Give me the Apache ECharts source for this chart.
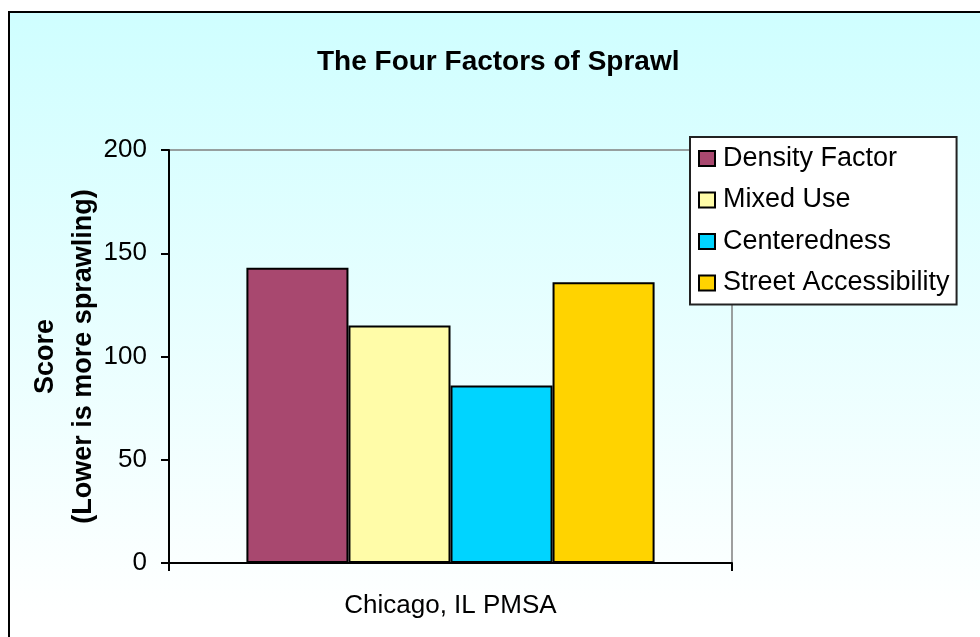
<!DOCTYPE html>
<html>
<head>
<meta charset="utf-8">
<script src="https://cdn.jsdelivr.net/npm/echarts@6/dist/echarts.min.js"></script>
<style>
  html, body { margin: 0; padding: 0; background: #fff; overflow: hidden; }
  #chart { width: 980px; height: 637px; }
</style>
</head>
<body>
<div id="chart"></div>
<script>
// data
const categories = ["Chicago, IL PMSA"];
const seriesNames = ["Density Factor", "Mixed Use", "Centeredness", "Street Accessibility"];
const seriesValues = [143, 115, 86, 136];
const colors = ["#A8486F", "#FFFCA8", "#00D4FF", "#FFD300"];

const font = '"Liberation Sans", Arial, sans-serif';

const chart = echarts.init(document.getElementById("chart"));

const series = seriesNames.map((name, i) => ({
  name,
  type: "bar",
  data: [seriesValues[i]],
  barGap: "0%",
  barCategoryGap: "27.5%",
  itemStyle: {
    color: colors[i],
    borderColor: "#000",
    borderWidth: 2,
  },
}));

chart.setOption({
  animation: false,
  backgroundColor: "#fff",
  textStyle: { fontFamily: font },
  // chart area frame with the turquoise-to-white fill
  graphic: [
    {
      type: "rect",
      z: -10,
      silent: true,
      shape: { x: 9, y: 12, width: 1000, height: 660 },
      style: {
        fill: new echarts.graphic.LinearGradient(0, 0, 0, 1, [
          { offset: 0, color: "#CFFEFF" },
          { offset: 0.92, color: "#FFFFFF" },
          { offset: 1, color: "#FFFFFF" },
        ]),
        stroke: "#000",
        lineWidth: 2,
      },
    },
  ],
  title: {
    text: "The Four Factors of Sprawl",
    left: 312,
    top: 43,
    textStyle: { fontFamily: font, fontSize: 28, fontWeight: "bold", color: "#000" },
  },
  legend: {
    orient: "vertical",
    left: 690,
    top: 137,
    padding: [8, 7, 8, 8],
    itemWidth: 16,
    itemHeight: 15,
    itemGap: 14.5,
    icon: "rect",
    backgroundColor: "#fff",
    borderColor: "#222",
    borderWidth: 2,
    borderRadius: 0,
    textStyle: { fontFamily: font, fontSize: 27, color: "#000", lineHeight: 26, padding: [0, 0, 0, 3] },
    data: seriesNames,
  },
  grid: {
    left: 169,
    right: 248,
    top: 150,
    bottom: 74,
    show: true,
    borderColor: "#808080",
    borderWidth: 1.5,
    backgroundColor: "transparent",
  },
  xAxis: {
    type: "category",
    data: categories,
    axisLine: { lineStyle: { color: "#000", width: 2 } },
    axisTick: { show: true, length: 8, lineStyle: { color: "#000", width: 2 } },
    axisLabel: { fontFamily: font, fontSize: 26, color: "#000", margin: 30 },
  },
  yAxis: {
    type: "value",
    min: 0,
    max: 200,
    interval: 50,
    name: "Score\n(Lower is more sprawling)",
    nameLocation: "middle",
    nameGap: 66,
    nameMoveOverlap: false,
    nameTextStyle: { fontFamily: font, fontSize: 27, fontWeight: "bold", color: "#000", lineHeight: 38 },
    axisLine: { show: true, lineStyle: { color: "#000", width: 2 } },
    axisTick: { show: true, length: 8, lineStyle: { color: "#000", width: 2 } },
    axisLabel: { fontFamily: font, fontSize: 26, color: "#000", margin: 22 },
    splitLine: { show: false },
  },
  series,
});
</script>
</body>
</html>
